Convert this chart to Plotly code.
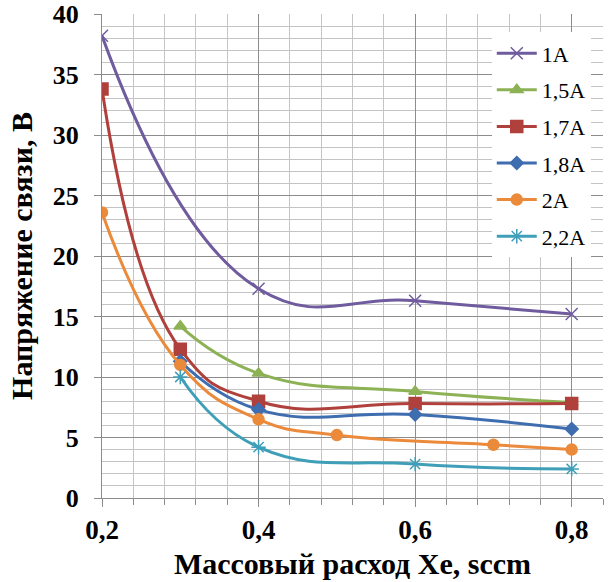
import plotly.graph_objects as go

x_1A = [0.2, 0.4, 0.6, 0.8]
y_1A = [38.2, 17.3, 16.3, 15.2]
x_15A = [0.3, 0.4, 0.6, 0.8]
y_15A = [14.2, 10.3, 8.8, 7.9]
x_17A = [0.2, 0.3, 0.4, 0.6, 0.8]
y_17A = [33.8, 12.3, 8.0, 7.8, 7.8]
x_18A = [0.3, 0.4, 0.6, 0.8]
y_18A = [11.3, 7.3, 6.9, 5.7]
x_2A = [0.2, 0.3, 0.4, 0.5, 0.7, 0.8]
y_2A = [23.6, 11.0, 6.5, 5.2, 4.4, 4.0]
x_22A = [0.3, 0.4, 0.6, 0.8]
y_22A = [10.0, 4.2, 2.8, 2.4]

names = ["1A", "1,5A", "1,7A", "1,8A", "2A", "2,2A"]
xs = [x_1A, x_15A, x_17A, x_18A, x_2A, x_22A]
ys = [y_1A, y_15A, y_17A, y_18A, y_2A, y_22A]
colors = ["#6F5B9E", "#8DB255", "#B0403C", "#3E6DB0", "#EB8A3A", "#3F9FB8"]
symbols = ["x-thin-open", "triangle-up", "square", "diamond", "circle", "asterisk-open"]
sizes = [12, 11, 12, 10, 11, 12]

x_tick_vals = [0.2, 0.4, 0.6, 0.8]
x_tick_text = ["0,2", "0,4", "0,6", "0,8"]
y_tick_vals = [0, 5, 10, 15, 20, 25, 30, 35, 40]

fig = go.Figure()
for i in range(6):
    fig.add_trace(go.Scatter(
        x=xs[i], y=ys[i], name=names[i], mode="lines+markers",
        line=dict(color=colors[i], width=3, shape="spline", smoothing=1.3),
        marker=dict(symbol=symbols[i], size=sizes[i], color=colors[i],
                    line=dict(color=colors[i], width=1.5)),
        legendgroup=names[i],
    ))

serif = "Liberation Serif, Times New Roman, serif"
fig.update_layout(
    width=608, height=582,
    margin=dict(l=102, r=5, t=14, b=84),
    paper_bgcolor="white", plot_bgcolor="white",
    font=dict(family=serif, color="black"),
    separators=", ",
    showlegend=True,
    legend=dict(x=0.778, y=0.962, xanchor="left", yanchor="top",
                bgcolor="white", borderwidth=0,
                font=dict(family=serif, size=22, color="black"),
                tracegroupgap=5, traceorder="grouped", itemwidth=40),
    xaxis=dict(range=[0.2, 0.84], tickvals=x_tick_vals, ticktext=x_tick_text,
               automargin=False,
               showgrid=True, gridcolor="#8c8c8c", gridwidth=1,
               minor=dict(dtick=0.04, tick0=0.2, showgrid=True, gridcolor="#c4c4c4",
                          ticks="outside", ticklen=6, tickcolor="#8c8c8c"),
               ticks="outside", ticklen=8, tickcolor="#8c8c8c",
               ticklabelstandoff=0,
               showline=True, linecolor="#8c8c8c", linewidth=1,
               zeroline=False,
               tickfont=dict(family=serif, size=27, color="black", weight="bold"),
               title=dict(text="Массовый расход Xe, sccm", standoff=8,
                          font=dict(family=serif, size=30, color="black", weight="bold"))),
    yaxis=dict(range=[0, 40], tickvals=y_tick_vals,
               automargin=False,
               showgrid=True, gridcolor="#8c8c8c", gridwidth=1,
               minor=dict(dtick=1, showgrid=True, gridcolor="#c4c4c4"),
               ticks="outside", ticklen=7, tickcolor="#8c8c8c",
               ticklabelstandoff=10, ticklabeloverflow="allow",
               showline=True, linecolor="#8c8c8c", linewidth=1,
               zeroline=False,
               tickfont=dict(family=serif, size=26, color="black", weight="bold"),
               title=dict(text="Напряжение связи, В", standoff=11,
                          font=dict(family=serif, size=30, color="black", weight="bold"))),
)

fig.write_html("out.html", config={"displayModeBar": False},
               post_script="document.body.style.margin='0';document.body.style.overflow='hidden';")
